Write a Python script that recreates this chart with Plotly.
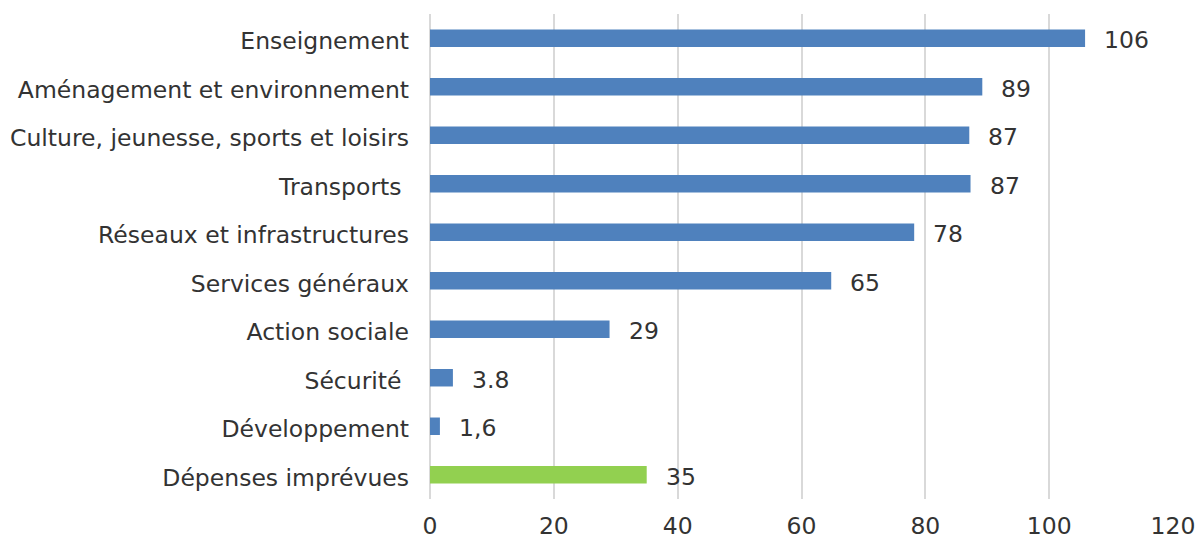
import plotly.graph_objects as go

categories = ["Enseignement", "Aménagement et environnement", "Culture, jeunesse, sports et loisirs",
              "Transports ", "Réseaux et infrastructures", "Services généraux", "Action sociale",
              "Sécurité ", "Développement", "Dépenses imprévues"]
values = [105.8, 89.2, 87.1, 87.3, 78.2, 64.8, 29.0, 3.7, 1.6, 35.0]
value_labels = ["106", "89", "87", "87", "78", "65", "29", "3.8", "1,6", "35"]
colors = ["#4f81bd"] * 9 + ["#92d050"]
x_ticks = [0, 20, 40, 60, 80, 100, 120]

FONT = "DejaVu Sans"
TXT = "#333333"
FS = 23.5

fig = go.Figure()
fig.add_trace(go.Bar(
    y=categories, x=values, orientation="h",
    marker=dict(color=colors, line=dict(width=0)),
    width=0.36, hoverinfo="skip",
))
for c, v, t in zip(categories, values, value_labels):
    fig.add_annotation(x=v, y=c, text=t, showarrow=False, xanchor="left",
                       xshift=17, yshift=-2, font=dict(family=FONT, size=FS, color=TXT))

fig.update_layout(
    width=1200, height=544,
    margin=dict(l=430, r=27, t=14, b=45),
    plot_bgcolor="white", paper_bgcolor="white",
    showlegend=False,
    font=dict(family=FONT, size=FS, color=TXT),
    xaxis=dict(range=[0, 120], tickvals=x_ticks, showgrid=True, gridcolor="#d9d9d9",
               gridwidth=2, zeroline=True, zerolinecolor="#d9d9d9", zerolinewidth=2,
               showline=False, ticks="", automargin=False,
               ticklabelstandoff=10, tickfont=dict(family=FONT, size=FS, color=TXT)),
    yaxis=dict(categoryorder="array", categoryarray=categories[::-1], autorange=False,
               range=[-0.5, 9.5], showgrid=False, zeroline=False, showline=False, ticks="",
               automargin=False, ticklabelshift=3,
               ticklabelstandoff=20, tickfont=dict(family=FONT, size=FS, color=TXT)),
)
fig.write_html("out.html", config={"displayModeBar": False},
               post_script="document.body.style.margin='0';document.body.style.overflow='hidden';")
